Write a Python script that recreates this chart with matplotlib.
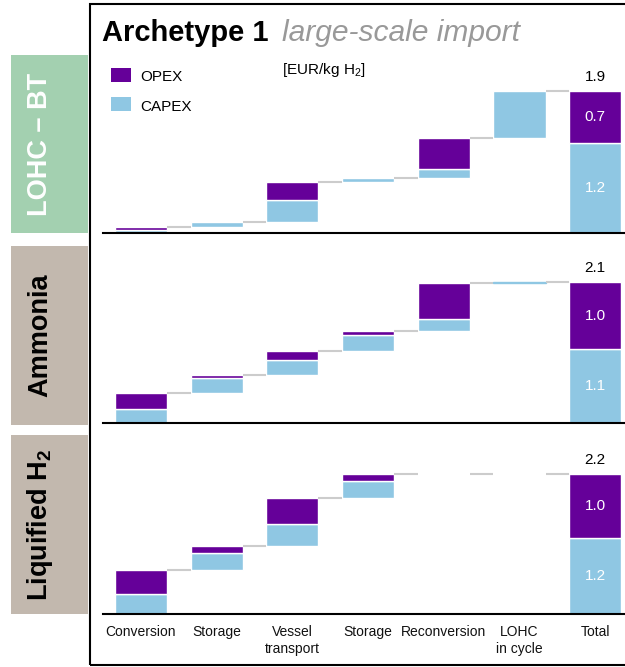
import matplotlib
matplotlib.use("Agg")
import matplotlib.pyplot as plt
from matplotlib.patches import Rectangle
import numpy as np

plt.rcParams['font.family'] = ['Liberation Sans', 'DejaVu Sans']
plt.rcParams['mathtext.fontset'] = 'custom'
plt.rcParams['mathtext.rm'] = 'Liberation Sans'
plt.rcParams['mathtext.it'] = 'Liberation Sans:italic'
plt.rcParams['mathtext.bf'] = 'Liberation Sans:bold'

# ---------------- data ----------------
categories = ["Conversion", "Storage", "Vessel\ntransport", "Storage",
              "Reconversion", "LOHC\nin cycle", "Total"]
series_names = ["OPEX", "CAPEX"]
pathway_names = ["LOHC – BT", "Ammonia", r"Liquified H$_\mathbf{2}$"]

lohc_capex = [0.04, 0.075, 0.29, 0.06, 0.12, 0.63]
lohc_opex = [0.04, 0.0, 0.24, 0.0, 0.41, 0.0]
nh3_capex = [0.22, 0.23, 0.23, 0.24, 0.18, 0.01]
nh3_opex = [0.23, 0.04, 0.14, 0.05, 0.55, 0.0]
lh2_capex = [0.31, 0.26, 0.35, 0.27, 0.0, 0.0]
lh2_opex = [0.38, 0.11, 0.40, 0.10, 0.0, 0.0]

# ---------------- style ----------------
W, H = 625, 667
OPEX_C = "#650099"
CAPEX_C = "#8fc7e3"
CONN_C = "#cccccc"

fig = plt.figure(figsize=(W / 100, H / 100), dpi=100)


def fx(px):
    return px / W


def fy(py):
    return 1 - py / H


panels = [
    dict(capex=lohc_capex, opex=lohc_opex, baseline=233.3, scale=74.7,
         box=(55, 233), boxcolor="#a3d0b0", textcolor="white"),
    dict(capex=nh3_capex, opex=nh3_opex, baseline=423.3, scale=66.6,
         box=(246, 425), boxcolor="#c2b8ae", textcolor="black"),
    dict(capex=lh2_capex, opex=lh2_opex, baseline=614.0, scale=64.1,
         box=(435, 614), boxcolor="#c2b8ae", textcolor="black"),
]

AX_LEFT = 103.3
X0 = 141.0
XSCALE = 75.7
AX_H = 180.3
BW = 0.687

for i, p in enumerate(panels):
    ax = fig.add_axes([fx(AX_LEFT), fy(p["baseline"]), 1 - fx(AX_LEFT), AX_H / H])
    ax.set_xlim((AX_LEFT - X0) / XSCALE, (W - X0) / XSCALE)
    ax.set_ylim(0, AX_H / p["scale"])
    ax.patch.set_alpha(0)
    for s in ["top", "left", "right"]:
        ax.spines[s].set_visible(False)
    ax.spines["bottom"].set_linewidth(1.5)
    ax.spines["bottom"].set_color("black")
    ax.set_yticks([])

    capex = np.array(p["capex"])
    opex = np.array(p["opex"])
    steps = capex + opex
    cum = np.cumsum(steps)
    prev = np.concatenate([[0], cum[:-1]])
    x = np.arange(len(capex))

    for xi, c, o, b in zip(x, capex, opex, prev):
        if c > 0:
            ec = "white" if c >= 0.03 else CAPEX_C
            ax.bar(xi, c, width=BW, bottom=b, color=CAPEX_C, edgecolor=ec, linewidth=1.0)
        if o > 0:
            ax.bar(xi, o, width=BW, bottom=b + c, color=OPEX_C, edgecolor="white", linewidth=1.0)

    # connectors
    for xi, level in zip(x, cum):
        ax.plot([xi + BW / 2, xi + 1 - BW / 2], [level, level], color=CONN_C, lw=1.5,
                solid_capstyle="butt")

    tc = capex.sum()
    to = opex.sum()
    tot = tc + to
    xt = len(capex)
    ax.bar(xt, tc, width=BW, color=CAPEX_C, edgecolor="white", linewidth=1.0)
    ax.bar(xt, to, width=BW, bottom=tc, color=OPEX_C, edgecolor="white", linewidth=1.0)
    ax.text(xt, tc / 2, f"{tc:.1f}", ha="center", va="center", color="white", fontsize=11)
    ax.text(xt, tc + to / 2, f"{to:.1f}", ha="center", va="center", color="white", fontsize=11)
    ax.annotate(f"{tot:.1f}", (xt, tot), xytext=(0, 10), textcoords="offset points",
                ha="center", va="center", fontsize=11, color="black")

    ax.set_xticks(range(len(categories)))
    ax.tick_params(axis="x", length=0, pad=8)
    if i == len(panels) - 1:
        ax.set_xticklabels(categories, fontsize=10, color="#111111", linespacing=1.25)
    else:
        ax.set_xticklabels([])

    # left pathway boxes
    top, bot = p["box"]
    fig.add_artist(Rectangle((fx(11), fy(bot)), fx(88) - fx(11), (bot - top) / H,
                             color=p["boxcolor"], transform=fig.transFigure, lw=0))
    fig.text(fx(47), fy((top + bot) / 2), pathway_names[i], rotation=90,
             rotation_mode="anchor", ha="center", va="baseline", fontsize=19.5,
             fontweight="bold", color=p["textcolor"])

# frame
fig.add_artist(Rectangle((fx(90), fy(665)), 1, (665 - 3.5) / H, fill=False,
                         ec="black", lw=1.5, transform=fig.transFigure))

# title
fig.text(fx(101.7), fy(41), "Archetype 1", fontsize=21, fontweight="bold",
         va="baseline", ha="left")
fig.text(fx(282), fy(41), "large-scale import", fontsize=21.6, style="italic",
         color="#999999", va="baseline", ha="left")

# unit
fig.text(fx(282), fy(74), r"[EUR/kg H$_2$]", fontsize=11, va="baseline", ha="left")

# legend
for name, color, ytop in zip(series_names, [OPEX_C, CAPEX_C], [67.7, 97.3]):
    fig.add_artist(Rectangle((fx(110.7), fy(ytop + 14)), fx(131) - fx(110.7), 14 / H,
                             color=color, transform=fig.transFigure, lw=0))
    fig.text(fx(140.5), fy(ytop + 13.5), name, fontsize=11, va="baseline", ha="left")

fig.savefig("out.png", dpi=100)
